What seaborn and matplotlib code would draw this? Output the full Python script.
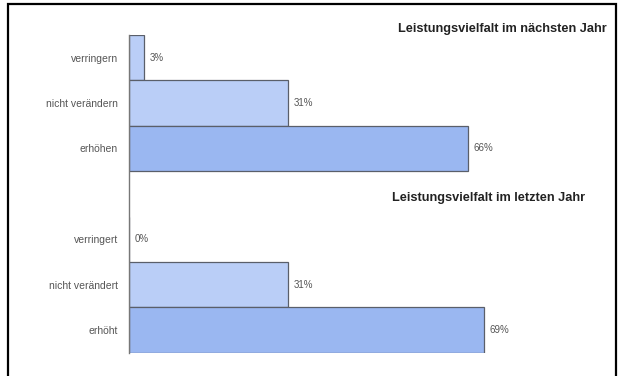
import numpy as np
import pandas as pd
import matplotlib
matplotlib.use("Agg")
import matplotlib.pyplot as plt
import seaborn as sns
from matplotlib.patches import Rectangle

sns.set_style("white")
plt.rcParams['font.family'] = ['Liberation Sans', 'DejaVu Sans']

categories = ["verringern", "nicht verändern", "erhöhen", " ",
              "verringert", "nicht verändert", "erhöht"]
values = [3, 31, 66, np.nan, 0, 31, 69]
value_labels = ["3%", "31%", "66%", "", "0%", "31%", "69%"]
titles = ["Leistungsvielfalt im nächsten Jahr", "Leistungsvielfalt im letzten Jahr"]

light = "#bacef7"
dark = "#9ab7f1"
palette = {"verringern": light, "nicht verändern": light, "erhöhen": dark, " ": light,
           "verringert": light, "nicht verändert": light, "erhöht": dark}

df = pd.DataFrame({"cat": categories, "val": values})

W, H = 621, 376
fig = plt.figure(figsize=(W / 100, H / 100), dpi=100)
x0, y_top, y_bot = 129, 35, 352.7
px_per = 5.14
x_right = 600
ax = fig.add_axes([x0 / W, (H - y_bot) / H, (x_right - x0) / W, (y_bot - y_top) / H])

sns.barplot(data=df, y="cat", x="val", hue="cat", palette=palette, order=categories,
            hue_order=categories, orient="h", width=1.0, legend=False, saturation=1,
            edgecolor="#5a5f6a", linewidth=0.9, ax=ax)

ax.set_xlim(0, (x_right - x0) / px_per)
ax.set_ylim(len(categories) - 0.5, -0.5)
ax.set_xlabel("")
ax.set_ylabel("")
ax.set_xticks([])
for s in ["top", "right", "bottom"]:
    ax.spines[s].set_visible(False)
ax.spines["left"].set_color("#777777")
ax.spines["left"].set_linewidth(1.0)
ax.set_yticks(range(len(categories)))
ax.set_yticklabels(categories, fontsize=7.5, color="#555555")
ax.tick_params(axis="y", which="major", length=0, pad=8)
ax.set_yticks(np.arange(-0.5, len(categories) + 0.5, 1), minor=True)
ax.tick_params(axis="y", which="minor", length=3, width=0.8, color="#777777", direction="out")
ax.set_facecolor("none")

for i, (v, lab) in enumerate(zip(values, value_labels)):
    if lab:
        ax.annotate(lab, xy=(v, i), xytext=(4, 0), textcoords="offset points",
                    ha="left", va="center", fontsize=7, color="#555555")

fig.text(607 / W, 1 - 29 / H, titles[0], ha="right", va="center", fontsize=9.2,
         fontweight="bold", color="#222222")
fig.text(585 / W, 1 - 198 / H, titles[1], ha="right", va="center", fontsize=9.2,
         fontweight="bold", color="#222222")

fig.patches.append(Rectangle((8 / W, -0.05), (616 - 8) / W, 1 - 4 / H + 0.05,
                             transform=fig.transFigure, fill=False,
                             edgecolor="black", linewidth=1.6))

fig.savefig("out.png", dpi=100)
